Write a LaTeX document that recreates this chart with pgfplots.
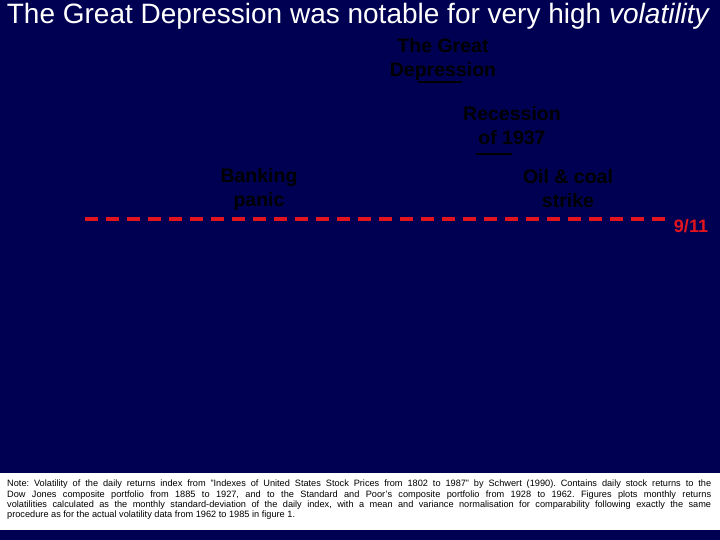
\documentclass[border=0pt]{standalone}
\usepackage{pgfplots}
\pgfplotsset{compat=1.18}
\usepackage{fontspec}
\setmainfont{Liberation Sans}
\definecolor{navybg}{RGB}{0,0,82}
\definecolor{elevred}{RGB}{226,20,30}

\begin{document}
\begin{tikzpicture}
\begin{axis}[
    x=1pt, y=1pt,
    scale only axis,
    xmin=0, xmax=720,
    ymin=0, ymax=540,
    y dir=reverse,
    hide axis,
    clip=false,
  ]
  % background and note box
  \fill[navybg] (axis cs:0,0) rectangle (axis cs:720,540);
  \fill[white] (axis cs:0,473) rectangle (axis cs:720,530);

  % 9/11 level
  \addplot[elevred, line width=4pt, dash pattern=on 13pt off 8pt] coordinates {(85,219) (665,219)};

  % event underlines
  \addplot[black, line width=2pt] coordinates {(418,82) (462,82)};
  \addplot[black, line width=2pt] coordinates {(476,154) (512,154)};

  % title
  \node[overlay, white, font=\fontsize{28}{32}\selectfont] at (axis cs:358.5,16)
    {The Great Depression was notable for very high \textit{volatility}};

  % events
  \tikzset{ev/.style={overlay, black, align=center, font=\fontsize{19.5}{24}\selectfont\bfseries}}
  \node[ev] at (axis cs:443,59) {The Great\\Depression};
  \node[ev] at (axis cs:512,126) {Recession\\of 1937};
  \node[ev] at (axis cs:259,189) {Banking\\panic};
  \node[ev] at (axis cs:568,189) {Oil \& coal\\strike};
  \node[overlay, elevred, font=\fontsize{18}{20}\selectfont\bfseries] at (axis cs:691,226) {9/11};

  % note
  \node[overlay, anchor=north west, inner sep=0pt, text width=704pt, align=justify,
        font=\fontsize{9.2}{10.3}\selectfont\frenchspacing] at (axis cs:7,480)
    {Note: Volatility of the daily returns index from "Indexes of United States Stock Prices from 1802 to 1987" by Schwert (1990). Contains daily stock returns to the\linebreak
     Dow Jones composite portfolio from 1885 to 1927, and to the Standard and Poor's composite portfolio from 1928 to 1962. Figures plots monthly returns\linebreak
     volatilities calculated as the monthly standard-deviation of the daily index, with a mean and variance normalisation for comparability following exactly the same\linebreak
     procedure as for the actual volatility data from 1962 to 1985 in figure 1.};
\end{axis}
\end{tikzpicture}
\end{document}
